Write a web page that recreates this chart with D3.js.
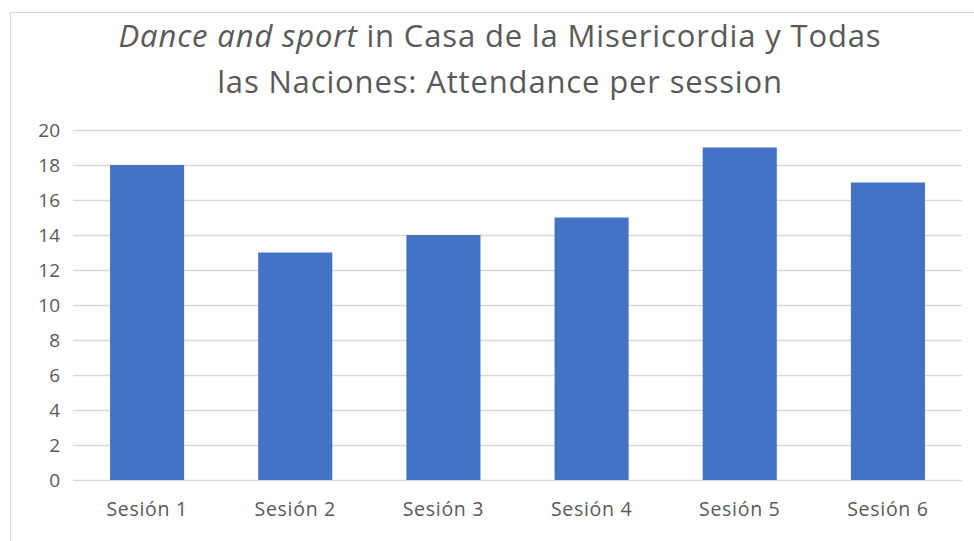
<!DOCTYPE html>
<html><head><meta charset="utf-8">
<script src="https://cdn.jsdelivr.net/npm/d3@7"></script>
<style>body{margin:0;background:#fff}svg{display:block}</style>
</head><body>
<script>
const categories = ["Sesión 1","Sesión 2","Sesión 3","Sesión 4","Sesión 5","Sesión 6"];
const attendance = [18,13,14,15,19,17];
const yTicks = [0,2,4,6,8,10,12,14,16,18,20];

(function(){
const W=974,H=541;
const svg=d3.select("body").append("svg").attr("width",W).attr("height",H);
svg.append("rect").attr("x",10.5).attr("y",12.5).attr("width",1000).attr("height",1000)
  .attr("fill","none").attr("stroke","#d9d9d9");
const font="'Open Sans', sans-serif";
const pLeft=73,pRight=962,pTop=130,pBottom=480;
const x=d3.scaleBand().domain(categories).range([pLeft,pRight]).paddingInner(0.5).paddingOuter(0.25);
const y=d3.scaleLinear().domain([0,20]).range([pBottom,pTop]);

const title=svg.append("text").attr("text-anchor","middle").attr("fill","#595959")
  .style("font-family",font).style("font-size","31px").style("letter-spacing","0.85px");
const l1=title.append("tspan").attr("x",500).attr("y",47);
l1.append("tspan").style("font-style","italic").text("Dance and sport");
l1.append("tspan").text(" in Casa de la Misericordia y Todas");
title.append("tspan").attr("x",500).attr("y",93).text("las Naciones: Attendance per session");

const ya=svg.append("g").attr("transform",`translate(${pLeft},0)`)
  .call(d3.axisLeft(y).tickValues(yTicks).tickSize(-(pRight-pLeft)).tickPadding(13));
ya.select(".domain").remove();
ya.selectAll(".tick line").attr("stroke","#d9d9d9").attr("stroke-width",1.3);
ya.selectAll(".tick text").attr("fill","#595959").style("font-family",font).style("font-size","19px");

svg.selectAll("rect.bar").data(attendance).enter().append("rect").attr("class","bar")
  .attr("x",(d,i)=>x(categories[i])).attr("width",x.bandwidth())
  .attr("y",d=>y(d)).attr("height",d=>y(0)-y(d)).attr("fill","#4472c4");

const xa=svg.append("g").attr("transform",`translate(0,${pBottom})`)
  .call(d3.axisBottom(x).tickSize(0).tickPadding(22));
xa.select(".domain").remove();
xa.selectAll(".tick text").attr("fill","#595959").style("font-family",font).style("font-size","19.5px")
  .style("letter-spacing","0.7px");
})();
</script>
</body></html>
